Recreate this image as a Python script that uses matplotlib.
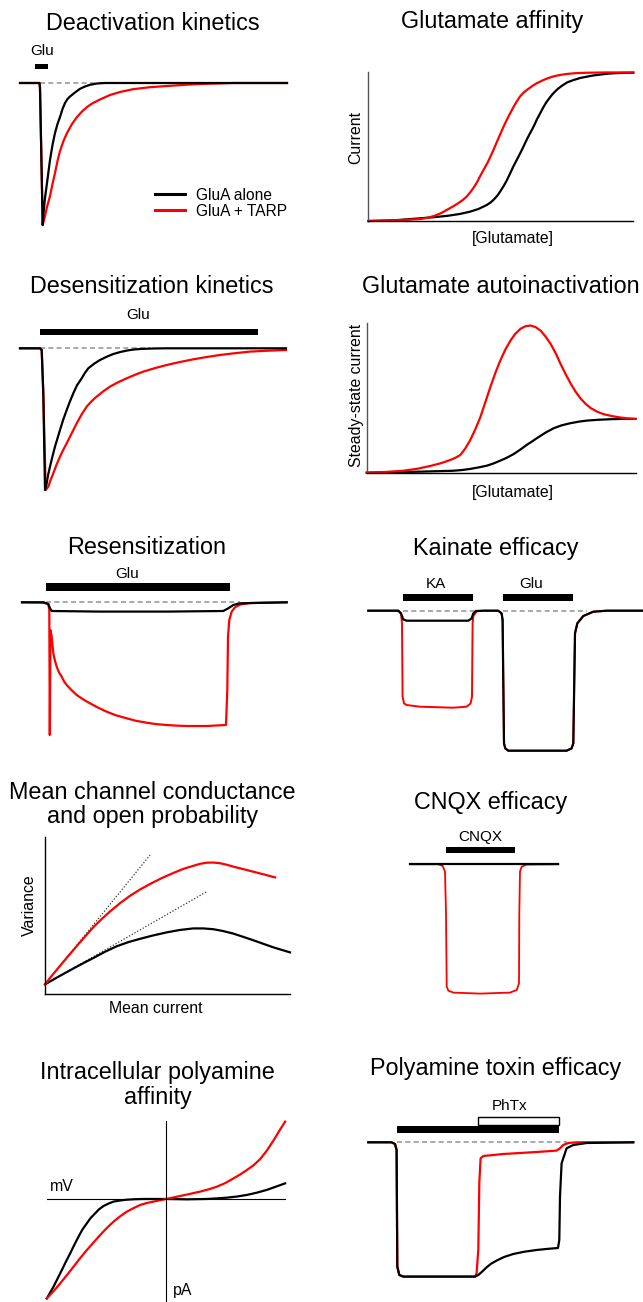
import matplotlib
matplotlib.use("Agg")
import matplotlib.pyplot as plt

plt.rcParams["font.family"] = ["Liberation Sans", "DejaVu Sans"]

W, H = 643, 1302
BLACK = "black"
RED = "#ff0000"
DASH = "#999999"

# ---------------- data ----------------
# Deactivation kinetics: time, current
deact_t_alone = [0, 19.5, 20, 22.7, 23.5, 25, 27, 30, 32.5, 35, 37.5, 40, 42.5, 45, 47.5, 50,
                 55, 60, 65, 70, 77, 85, 120, 267]
deact_i_alone = [0, 0, -5, -142, -130, -115, -100, -77, -62, -50, -41, -34, -26, -20, -16,
                 -13.5, -9.5, -5.8, -3.5, -1.8, -0.5, 0, 0, 0]
deact_t_tarp = [0, 19.5, 20, 22.7, 24, 25, 27, 30, 32.5, 35, 37.5, 40, 43.5, 47, 52, 57, 62,
                67, 73, 80, 90, 100, 113, 130, 147, 165, 180, 200, 213, 267]
deact_i_tarp = [0, 0, -5, -142, -137, -133, -124, -113, -101, -90, -78, -68, -58, -50, -41,
                -34, -28.5, -24, -20, -16.5, -12, -9, -6.2, -4.2, -3, -1.8, -1, -0.4, 0, 0]
deact_glu = (15, 28)

# Glutamate affinity: [Glu] (norm), current (norm)
aff_x_alone = [0, .1, .195, .25, .3, .345, .384, .415, .447, .462, .475, .487, .497, .51, .522,
               .535, .547, .561, .575, .586, .597, .609, .62, .628, .635, .648, .66, .67, .68,
               .69, .698, .714, .73, .75, .774, .8, .82, .84, .862, .9, .93, .965, 1]
aff_y_alone = [0, .005, .018, .026, .035, .047, .0625, .08, .107, .125, .146, .17, .196, .232,
               .27, .318, .364, .412, .46, .5, .542, .583, .62, .648, .676, .72, .76, .79,
               .815, .838, .855, .883, .905, .928, .944, .958, .965, .972, .978, .986, .99,
               .992, .993]
aff_x_tarp = [0, .1, .195, .225, .25, .275, .296, .32, .34, .356, .371, .386, .4, .411, .421,
              .435, .45, .461, .472, .486, .5, .511, .522, .536, .55, .561, .572, .586, .6,
              .618, .635, .658, .68, .7, .723, .75, .78, .824, .9, 1]
aff_y_tarp = [0, .004, .013, .022, .035, .053, .074, .098, .12, .14, .163, .195, .23, .262,
              .297, .343, .39, .432, .475, .533, .59, .634, .676, .724, .77, .803, .833, .86,
              .88, .903, .922, .942, .958, .969, .978, .985, .99, .993, .995, .995]

# Desensitization kinetics
des_t_alone = [0, 20, 21.7, 23.3, 25, 26.7, 28, 30, 32.5, 35, 37.5, 40, 43, 46.7, 50, 53.3,
               57, 61.7, 65, 68.3, 74, 80, 87, 93.3, 100, 106.7, 113, 120, 133, 146.7, 266]
des_i_alone = [0, 0, -1.7, -45, -141.7, -135, -127, -118.3, -108, -98.3, -90, -81.7, -72,
               -61.7, -53, -45, -37, -30, -24.5, -20, -15.5, -11.7, -8.3, -5.7, -3.8, -2.3,
               -1.3, -0.7, -0.2, 0, 0]
des_t_tarp = [0, 20, 21.7, 23.3, 25.7, 28.3, 30.5, 33.3, 36.5, 40, 43.3, 46.7, 51.7, 56.7,
              61.7, 66.7, 71.7, 76.7, 83.3, 90, 98, 106.7, 115, 123.3, 135, 146.7, 160, 173.3,
              186.7, 200, 215, 230, 248, 266]
des_i_tarp = [0, 0, -1.7, -45, -141.7, -138.3, -132, -125, -116.5, -108.3, -101.5, -95, -85,
              -75, -66, -58.3, -52.8, -48.3, -43, -38.3, -34, -30, -26.5, -23.3, -19.8, -16.7,
              -13.7, -11, -8.7, -6.7, -4.9, -3.3, -2.4, -1.7]
des_glu = (20, 238.3)

# Glutamate autoinactivation
auto_x_alone = [0, .1, .198, .26, .322, .355, .384, .415, .447, .472, .496, .521, .546, .571,
                .596, .615, .633, .665, .696, .727, .757, .79, .82, .86, .907, .95, 1]
auto_y_alone = [0, .003, .007, .01, .013, .018, .025, .035, .047, .062, .08, .1, .124, .154,
                .187, .209, .231, .268, .298, .318, .331, .342, .349, .354, .358, .36, .36]
auto_x_tarp = [0, .07, .137, .19, .236, .275, .311, .33, .348, .366, .385, .404, .423, .441,
               .46, .478, .497, .516, .535, .553, .572, .59, .609, .628, .647, .665, .684,
               .703, .721, .74, .759, .778, .796, .815, .833, .858, .883, .915, .945, .975, 1]
auto_y_tarp = [0, .005, .013, .027, .045, .063, .085, .1, .118, .16, .218, .29, .373, .47,
               .573, .665, .751, .825, .885, .93, .963, .98, .985, .975, .951, .912, .863,
               .8, .729, .66, .596, .54, .496, .46, .433, .408, .391, .378, .369, .363, .36]

# Resensitization
res_t_alone = [0, 21.3, 26.3, 28, 29.7, 78, 144.7, 201.3, 206.3, 211.3, 218, 264.7]
res_i_alone = [0, 0, -1.7, -6, -8.7, -9.3, -9.3, -8.7, -6, -2.7, -1, 0]
res_t_tarp = [0, 21.3, 26.3, 27.3, 27.8, 28.5, 29.7, 30.5, 31.3, 33, 34.7, 37, 39.7, 42,
              44.7, 49.7, 54.7, 61, 68, 76, 84.7, 94, 104.7, 114, 124.7, 134, 144.7, 154,
              164.7, 184.7, 204, 205.3, 206, 207.3, 209.7, 213, 218, 228, 264.7]
res_i_tarp = [0, -0.3, -1.7, -7.7, -132.7, -28, -34.4, -43, -51, -58.5, -64.4, -70, -74.4,
              -79, -82.7, -88, -92.7, -97, -101, -105.3, -109.4, -113, -116, -118.5, -120.4,
              -121.8, -122.7, -123.3, -123.7, -123.7, -122.7, -87.7, -34.4, -17.7, -9.3, -5,
              -2.3, -0.7, 0]
res_glu = (24, 208)

# Kainate efficacy
ka_t_alone = [0, 30, 32.7, 35, 38.3, 100, 103.3, 105, 107.7, 115, 130, 133.3, 134.3, 135.7,
              137, 140, 198.3, 203.3, 205, 206.7, 209, 215, 225, 238.3, 274]
ka_i_alone = [0, 0, -2.7, -8.7, -10, -10, -7.7, -2.7, -0.3, 0, 0, -2.7, -9.3, -132.7, -137.7,
              -140, -140, -137.7, -132.7, -22.7, -12.7, -5.3, -1, 0, 0]
ka_t_tarp = [0, 30, 32.7, 33.7, 34.3, 35.7, 38.3, 51.7, 85, 98.3, 102.3, 103.7, 104.3, 105,
             108.3, 115, 130, 133.3, 134.3, 135.7, 137, 140, 198.3, 203.3, 205, 206.7, 209,
             215, 225, 238.3, 274]
ka_i_tarp = [0, 0, -2.7, -12.7, -86, -92.7, -94.3, -96, -97, -96, -92.7, -86, -12.7, -5.3,
             -0.7, 0, 0, -2.7, -9.3, -132.7, -137.7, -140, -140, -137.7, -132.7, -22.7, -12.7,
             -5.3, -1, 0, 0]
ka_pulse = (34.3, 104.3)
ka_glu = (134.3, 205)

# Mean channel conductance / open probability (mean current, variance)
nsfa_x_alone = [0, .03, .061, .095, .129, .163, .197, .245, .293, .34, .388, .44, .497, .55,
                .605, .646, .687, .728, .769, .81, .85, .89, .932, .966, 1]
nsfa_y_alone = [.063, .09, .117, .146, .175, .203, .23, .27, .305, .331, .352, .373, .393,
                .408, .418, .418, .413, .401, .385, .364, .343, .321, .298, .282, .266]
nsfa_x_tarp = [0, .03, .061, .095, .129, .163, .197, .231, .265, .306, .347, .388, .429, .476,
               .524, .565, .605, .633, .66, .687, .714, .742, .769, .81, .85, .895, .939]
nsfa_y_tarp = [.063, .122, .18, .243, .305, .366, .425, .477, .525, .578, .625, .665, .70,
               .737, .77, .796, .815, .828, .835, .836, .832, .822, .81, .794, .778, .76, .742]
slope_tarp = ([0, .429], [.063, .884])
slope_alone = ([0, .66], [.063, .651])

# CNQX efficacy
cnqx_t_alone = [0, 148.3]
cnqx_i_alone = [0, 0]
cnqx_t_tarp = [0, 28.3, 32.7, 35, 36, 36.7, 38.3, 43.3, 70, 100, 106.7, 109, 109.3, 110,
               111.7, 116.7, 148.3]
cnqx_i_tarp = [0, 0, -1.7, -7.3, -49, -122.3, -126.3, -128.3, -129.3, -128.3, -125.7, -119,
               -49, -7.3, -2.3, -0.3, 0]
cnqx_pulse = (35.7, 105)

# Intracellular polyamine affinity (mV, pA)
iv_v_alone = [-99.9, -97, -94.3, -91, -87.3, -84, -80.3, -77, -73.3, -70, -66.3, -63, -59.3,
              -56, -52.3, -48, -43.9, -38, -32.7, -26, -18.7, -9, 0, 17.6, 34.4, 43, 51.2,
              60, 68, 76, 84.7, 92, 100.1]
iv_i_alone = [-83.4, -78.3, -73.6, -67, -59.6, -52.8, -45.6, -38.8, -31.6, -25.6, -20.4,
              -15.8, -12, -8.6, -5.9, -3.8, -2.2, -1.2, -0.6, -0.2, 0, 0, 0, -0.3, 0, 0.5,
              1.1, 2.1, 3.4, 5.2, 7.6, 10.2, 13.1]
iv_v_tarp = [-99.9, -94, -88.7, -83, -77.5, -72, -66.3, -60.5, -55.1, -49.5, -43.9, -38.3,
             -32.7, -27, -21.5, -16, -10.3, -5, 0, 6, 12, 20, 28.8, 36, 42.8, 50, 56.8, 62.5,
             68, 73.5, 79.2, 84.7, 90.3, 95, 100.1]
iv_i_tarp = [-83.4, -77, -70.8, -63.8, -56.8, -49.7, -42.8, -36.3, -30.2, -24.3, -19, -14.5,
             -10.6, -7.6, -5, -3.4, -2.2, -1.1, 0, 1.2, 2.5, 4.2, 6.2, 8.1, 10.3, 13.4, 17.3,
             20.6, 24.3, 28.2, 33.5, 40.5, 49, 56.8, 64.9]

# Polyamine toxin efficacy
phtx_t_alone = [0, 23.3, 26.7, 28.3, 29, 31, 35, 106.7, 110, 114, 118.3, 123, 128.3, 136,
                145, 156, 168.3, 179, 189.7, 191, 191.7, 193.3, 198.3, 205, 218.3, 265]
phtx_i_alone = [0, 0, -1.7, -7.7, -124.3, -132.7, -134.3, -134.3, -132.7, -129.2, -125,
                -121.3, -118.3, -114.6, -111.7, -109.4, -107.7, -106.6, -105.7, -97.7, -54.3,
                -21, -6, -2.7, -0.7, 0]
phtx_t_tarp = [0, 23.3, 26.7, 28.3, 29, 31, 35, 106.7, 108.3, 110, 111, 112.3, 115, 135,
               168.3, 188.3, 191.7, 195, 200, 208.3, 265]
phtx_i_tarp = [0, 0, -1.7, -7.7, -124.3, -132.7, -134.3, -134.3, -131, -107.7, -41, -16,
               -13.7, -11.7, -9.7, -8.3, -6, -2.7, -0.7, 0, 0]
phtx_glu = (28.3, 191)
phtx_toxin = (110, 191)

fig = plt.figure(figsize=(W / 100, H / 100), dpi=100)


# axes placed by a pixel box, y measured from the top
def px_axes(x0, y0, x1, y1):
    ax = fig.add_axes([x0 / W, 1 - y1 / H, (x1 - x0) / W, (y1 - y0) / H])
    ax.patch.set_alpha(0)
    return ax


# one data unit = one pixel, origin at trace start / baseline
def trace_axes(x0, y0, x1, y1, ox, oy):
    ax = px_axes(x0, y0, x1, y1)
    ax.set_xlim(x0 - ox, x1 - ox)
    ax.set_ylim(oy - y1, oy - y0)
    ax.axis("off")
    return ax


def graph_axes(x0, y0, x1, y1, left_color="#555555"):
    ax = px_axes(x0, y0, x1, y1)
    ax.set_xlim(0, 1)
    ax.set_ylim(0, 1)
    ax.spines["top"].set_visible(False)
    ax.spines["right"].set_visible(False)
    ax.spines["left"].set_color(left_color)
    ax.spines["bottom"].set_color("black")
    ax.spines["left"].set_linewidth(1.0)
    ax.spines["bottom"].set_linewidth(1.0)
    ax.set_xticks([])
    ax.set_yticks([])
    return ax


def text_px(x, y, s, size=11.4, **kw):
    fig.text(x / W, 1 - y / H, s, fontsize=size, ha="center", va="baseline", **kw)


# y is the baseline of the last line
def title(x, y, s, spacing=1.05):
    text_px(x, y, s, size=16.8, linespacing=spacing)


def pulse(ax, span, lo, hi, label=None, lx=None, ly=None):
    ax.bar(x=span[0], height=hi - lo, width=span[1] - span[0], bottom=lo, align="edge",
           color="black", linewidth=0)
    if label:
        ax.text(lx, ly, label, fontsize=11, ha="center", va="baseline")


def traces(ax, ta, ia, tt, it, dash=None, lw_red=1.6):
    if dash:
        ax.plot(dash, [0, 0], color=DASH, lw=1.2, ls=(0, (3, 2)))
    ax.plot(tt, it, color=RED, lw=lw_red, solid_joinstyle="round")
    ax.plot(ta, ia, color=BLACK, lw=1.6, solid_joinstyle="round")


# ---- Deactivation kinetics ----
title(152.5, 29.5, "Deactivation kinetics")
ax = trace_axes(0, 30, 320, 245, 20, 83)
pulse(ax, deact_glu, 14, 19, "Glu", 22, 28)
traces(ax, deact_t_alone, deact_i_alone, deact_t_tarp, deact_i_tarp, dash=[20, 200])
leg = ax.legend(ax.lines[-1:] + ax.lines[-2:-1], ["GluA alone", "GluA + TARP"],
                loc="upper left", bbox_to_anchor=(155 / W, 1 - 187.5 / H),
                bbox_transform=fig.transFigure, frameon=False, fontsize=11.2,
                handlelength=1.9, handletextpad=0.75, labelspacing=0.08,
                borderpad=0, borderaxespad=0)
for h in leg.legend_handles:
    h.set_linewidth(2.2)

# ---- Glutamate affinity ----
title(491.7, 28, "Glutamate affinity")
ax = graph_axes(368.3, 71.7, 633.3, 221)
ax.plot(aff_x_alone, aff_y_alone, color=BLACK, lw=1.6, clip_on=False)
ax.plot(aff_x_tarp, aff_y_tarp, color=RED, lw=1.6, clip_on=False)
text_px(360, 137.5, "Current", rotation=90, rotation_mode="anchor")
text_px(512.5, 243, "[Glutamate]")

# ---- Desensitization kinetics ----
title(151.7, 293, "Desensitization kinetics")
ax = trace_axes(0, 300, 320, 500, 20, 348.3)
pulse(ax, des_glu, 13, 19.7, "Glu", 118.3, 29)
traces(ax, des_t_alone, des_i_alone, des_t_tarp, des_i_tarp, dash=[20, 130])

# ---- Glutamate autoinactivation ----
title(500.8, 293.3, "Glutamate autoinactivation")
ax = graph_axes(366.7, 323.3, 635.5, 472.7)
ax.plot(auto_x_alone, auto_y_alone, color=BLACK, lw=1.6, clip_on=False)
ax.plot(auto_x_tarp, auto_y_tarp, color=RED, lw=1.6, clip_on=False)
text_px(360.5, 395.8, "Steady-state current", rotation=90, rotation_mode="anchor")
text_px(512.5, 497, "[Glutamate]")

# ---- Resensitization ----
title(146.3, 554, "Resensitization")
ax = trace_axes(0, 560, 320, 770, 22, 602.3)
pulse(ax, res_glu, 11.3, 19, "Glu", 104.7, 24)
traces(ax, res_t_alone, res_i_alone, res_t_tarp, res_i_tarp, dash=[24, 218])

# ---- Kainate efficacy ----
title(496, 555, "Kainate efficacy")
ax = trace_axes(320, 560, 643, 770, 368.3, 610.7)
pulse(ax, ka_pulse, 9.7, 16.3, "KA", 67.7, 22.3)
pulse(ax, ka_glu, 9.7, 16.3, "Glu", 163.3, 22.3)
traces(ax, ka_t_alone, ka_i_alone, ka_t_tarp, ka_i_tarp, dash=[34.3, 218.3], lw_red=1.4)

# ---- Mean channel conductance ----
title(152.5, 823, "Mean channel conductance\nand open probability")
ax = graph_axes(45, 836.7, 290, 994.3, left_color="black")
ax.plot(*slope_tarp, color="#333333", lw=0.9, ls=(0, (1, 1.5)), clip_on=False)
ax.plot(*slope_alone, color="#333333", lw=0.9, ls=(0, (1, 1.5)), clip_on=False)
ax.plot(nsfa_x_alone, nsfa_y_alone, color=BLACK, lw=1.6, clip_on=False)
ax.plot(nsfa_x_tarp, nsfa_y_tarp, color=RED, lw=1.6, clip_on=False)
text_px(33.5, 905, "Variance", rotation=90, rotation_mode="anchor")
text_px(155.8, 1013, "Mean current")

# ---- CNQX efficacy ----
title(490.8, 809.3, "CNQX efficacy")
ax = trace_axes(320, 820, 643, 1010, 410, 864.3)
pulse(ax, cnqx_pulse, 11.7, 17.7, "CNQX", 70, 23.3)
traces(ax, cnqx_t_alone, cnqx_i_alone, cnqx_t_tarp, cnqx_i_tarp, lw_red=1.3)

# ---- Intracellular polyamine affinity ----
title(157.7, 1104, "Intracellular polyamine\naffinity", spacing=1.12)
ax = px_axes(46.7, 1121, 285, 1302)
ax.set_xlim(-100, 100)
ax.set_ylim(-86.4, 65.4)
ax.spines["top"].set_visible(False)
ax.spines["right"].set_visible(False)
ax.spines["left"].set_position(("data", 0))
ax.spines["bottom"].set_position(("data", 0))
ax.set_xticks([])
ax.set_yticks([])
ax.plot(iv_v_alone, iv_i_alone, color=BLACK, lw=1.6, clip_on=False)
ax.plot(iv_v_tarp, iv_i_tarp, color=RED, lw=1.6, clip_on=False)
text_px(61.7, 1191, "mV")
text_px(183, 1295, "pA")

# ---- Polyamine toxin efficacy ----
title(496, 1075, "Polyamine toxin efficacy")
ax = trace_axes(320, 1085, 643, 1300, 368.3, 1142.3)
pulse(ax, phtx_glu, 9.7, 16.3)
ax.bar(x=phtx_toxin[0], height=8.4, width=phtx_toxin[1] - phtx_toxin[0], bottom=17.3,
       align="edge", facecolor="white", edgecolor="black", linewidth=1.0)
ax.text(141.7, 32.3, "PhTx", fontsize=11, ha="center", va="baseline")
traces(ax, phtx_t_alone, phtx_i_alone, phtx_t_tarp, phtx_i_tarp, dash=[28.3, 198.3])

fig.savefig("out.png", dpi=100)
